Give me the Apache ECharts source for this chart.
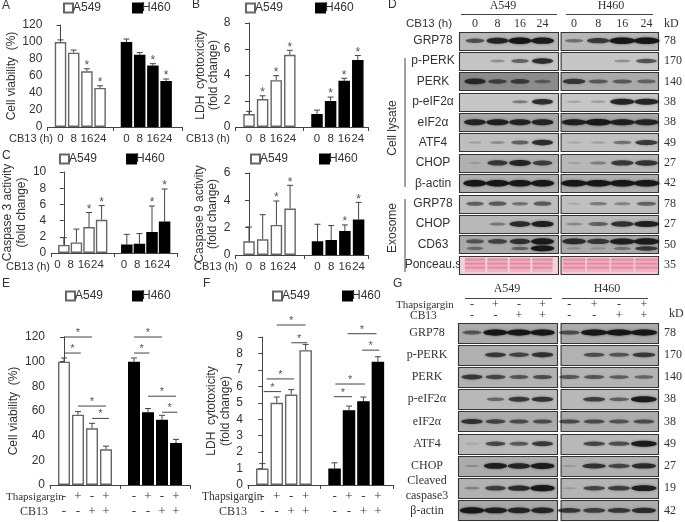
<!DOCTYPE html>
<html><head><meta charset="utf-8">
<style>html,body{margin:0;padding:0;background:#fff}#c{width:685px;height:522px}</style>
<script src="https://cdn.jsdelivr.net/npm/echarts@6/dist/echarts.min.js"></script>
</head><body><div id="c"></div>
<script>
// ---------- bar panel data ----------
const hourLabels = ['0','8','16','24'];
const tgLabels = ['-','+','-','+'];
const cbLabels = ['-','-','+','+'];

const aA549 = [100,87.5,65.5,46];   const aA549Err = [2.5,3,3,2.5];
const aH460 = [100,85,72.5,54];     const aH460Err = [3.5,2.5,2,2.5];
const aStars = [2,3,7,8];
const bA549 = [1,2.15,3.6,5.55];    const bA549Err = [.2,.25,.35,.35];
const bH460 = [1,2,3.55,5.15];      const bH460Err = [.3,.3,.2,.35];
const bStars = [1,2,3,6,7,8];
const cA549 = [1,1.3,3.2,4.1];      const cA549Err = [.9,1.65,1.8,1.75];
const cH460 = [1.05,1.15,2.6,3.9];  const cH460Err = [1.25,1.25,3.2,4];
const cStars = [2,3,7,8];
const c9A549 = [1,1.15,2.2,3.4];    const c9A549Err = [1.05,1.8,1.75,1.7];
const c9H460 = [1,1.1,1.75,2.6];    const c9H460Err = [1.25,1.05,.45,1.25];
const c9Stars = [2,3,7,8];
const eA549 = [100,57,46,29];       const eA549Err = [3,2.5,4,2.5];
const eH460 = [100,59,53,34];       const eH460Err = [3,3,3.5,3];
const eBrackets = [[0,2,120],[0,1.2,107],[1,3,64],[2,3.2,54],[5,7,120],[5,6.1,107],[6,8,72],[7,8.1,59]];
const fA549 = [1,5,5.5,8.2];        const fA549Err = [.3,.35,.3,.35];
const fH460 = [1,4.55,5.1,7.5];     const fH460Err = [.35,.25,.25,.3];
const fBrackets = [[1,3,9.73],[2,3.1,8.65],[.3,2.2,6.45],[.1,1.3,5.68],[5.9,7.9,9.2],[6.9,8.1,8.2],[5.05,7.1,6.14],[4.95,6.2,5.37]];

// ---------- blot data (band strength per lane) ----------
const dRows = ['GRP78','p-PERK','PERK','p-eIF2α','eIF2α','ATF4','CHOP','β-actin','GRP78','CHOP','CD63','Ponceau.s'];
const dKd = ['78','170','140','38','38','49','27','42','78','27','50','35'];
const dA549 = [[.55,.85,1,.95],[0,.2,.45,.8],[.8,.55,.6,.35],[0,0,.3,.8],[.85,.9,.85,.85],[.1,.2,.45,.8],[.05,.7,.85,.65],[1,1,1,1],[.45,.5,.35,.5],[0,.3,.8,.9],[.5,.6,.75,.95],[1,1,1,1]];
const dH460 = [[.35,.7,1,1],[0,0,.2,.55],[.7,.45,.45,.4],[.1,.12,.85,.85],[.9,1,.9,.85],[.05,.1,.35,.7],[.05,.25,.7,.75],[1,1,1,1],[.03,.3,.25,.45],[.2,.45,.75,.9],[.8,.7,.9,.95],[1,1,1,1]];
const dA549Lower = {10:[.35,0,.4,1]};
const dH460Lower = {10:[.1,.1,.3,.7]};
const dGrayA549 = [184,196,140,198,168,190,176,176,190,184,170,0];
const dGrayH460 = [184,198,170,198,168,192,184,176,192,186,170,0];
const gRows = ['GRP78','p-PERK','PERK','p-eIF2α','eIF2α','ATF4','CHOP','Cleaved\ncaspase3','β-actin'];
const gKd = ['78','170','140','38','38','49','27','19','42'];
const gA549 = [[.5,1,1,1],[0,.7,.6,.75],[.7,.6,.5,.55],[0,.4,.7,.75],[.75,.6,.55,.55],[.03,.6,.5,.7],[.1,.9,.85,.95],[.2,.65,.8,1],[1,.9,.85,.85]];
const gH460 = [[.55,1,1,1],[0,.55,.5,.7],[.5,.5,.45,.4],[0,.65,.45,.95],[.55,.55,.5,.55],[0,.6,.55,.95],[.05,.75,.6,.8],[.05,.6,.65,.9],[.7,.65,.7,.8]];
const gGrayA549 = [172,176,178,184,172,186,172,178,168];
const gGrayH460 = [172,178,180,184,172,184,176,180,172];

// ---------- layout ----------
const SANS = '"Liberation Sans",Arial,sans-serif', SERIF = '"Liberation Serif","Times New Roman",serif';
const INK = '#333', AXIS = '#444';
const panels = [
 {a:aA549,ae:aA549Err,h:aH460,he:aH460Err,stars:aStars,max:120,step:20,right:182,top:25,bottom:127,lane0:60.5,sp:13.2,bw:11.5,name:'Cell viability  (%)',gap:28,leg:[63,2],legGap:31,ln:14},
 {a:bA549,ae:bA549Err,h:bH460,he:bH460Err,stars:bStars,max:8,step:2,right:368,top:23,bottom:127,lane0:249,sp:13.6,bw:11.5,name:'LDH  cytotoxicity\n(fold change)',gap:15,leg:[245,2],legGap:32,ln:13},
 {a:cA549,ae:cA549Err,h:cH460,he:cH460Err,stars:cStars,max:10,step:2,right:177,top:172,bottom:253,lane0:57.5,sp:13.3,bw:11.5,name:'Caspase 3 activity\n(fold change)',gap:14,leg:[59,153],legGap:29,ln:14},
 {a:c9A549,ae:c9A549Err,h:c9H460,he:c9H460Err,stars:c9Stars,max:6,step:2,right:368,top:173,bottom:255,lane0:249,sp:13.7,bw:11.5,name:'Caspase 9 activity\n(fold change)',gap:16,leg:[250,153],legGap:31,ln:13},
 {a:eA549,ae:eA549Err,h:eH460,he:eH460Err,brackets:eBrackets,max:120,step:20,right:190,top:337,bottom:485,lane0:64,sp:14,bw:12,name:'Cell viability  (%)',gap:29,leg:[65,290],legGap:29,pm:true,ln:14},
 {a:fA549,ae:fA549Err,h:fH460,he:fH460Err,brackets:fBrackets,max:9,step:1,right:393,top:337,bottom:485,lane0:262.3,sp:14.45,bw:12.5,name:'LDH  cytotoxicity\n(fold change)',gap:12,leg:[272,290],legGap:32,pm:true,ln:14}
];
const option = {animation:false,backgroundColor:'#fff',grid:[],xAxis:[],yAxis:[],series:[],legend:[],graphic:[]};

function addText(text,x,y,font,extra){
 option.graphic.push({type:'text',x,y,z:200,silent:true,style:Object.assign({text,fill:INK,font:font||('12px '+SANS),verticalAlign:'middle',align:'left'},extra||{})});
}
function addLine(x1,y1,x2,y2){
 option.graphic.push({type:'line',silent:true,shape:{x1,y1,x2,y2},style:{stroke:AXIS,lineWidth:1}});
}

panels.forEach((p,i)=>{
 const left=p.lane0-p.sp, min=-1, max=min+(p.right-left)/p.sp;
 option.grid.push({left,top:p.top,width:p.right-left,height:p.bottom-p.top,containLabel:false});
 option.xAxis.push({gridIndex:i,type:'value',min,max,interval:1,
  splitLine:{show:false},
  axisLine:{show:true,onZero:false,lineStyle:{color:AXIS}},
  axisTick:{show:true,length:4,lineStyle:{color:AXIS},customValues:[min,4,max]},
  axisLabel:{show:false}});
 [0,1,2,3,5,6,7,8].forEach(l=>{
  const k=l>4?l-5:l, x=p.lane0+p.sp*l;
  if(p.pm){
   addText(tgLabels[k],x,p.bottom+12,'13px '+SERIF,{align:'center'});
   addText(cbLabels[k],x,p.bottom+27,'13px '+SERIF,{align:'center'});
  } else {
   addText(hourLabels[k],x,p.bottom+11.5,'11.5px '+SANS,{align:'center'});
  }
 });
 option.yAxis.push({gridIndex:i,type:'value',min:0,max:p.max,interval:p.step,
  splitLine:{show:false},axisLine:{show:true,lineStyle:{color:AXIS}},
  axisTick:{show:true,length:4,lineStyle:{color:AXIS}},
  axisLabel:{color:INK,fontFamily:SANS,fontSize:12,margin:5},
  name:p.name,nameLocation:'middle',nameRotate:90,nameGap:p.gap,
  nameTextStyle:{color:INK,fontFamily:SANS,fontSize:12,lineHeight:p.ln}});
 option.legend.push({left:p.leg[0],top:p.leg[1],padding:0,icon:'rect',itemWidth:9,itemHeight:9,itemGap:p.legGap,
  selectedMode:false,data:['A549','H460'],textStyle:{color:INK,fontFamily:SANS,fontSize:12,padding:[0,0,0,-5]}});
 const bar=(name,vals,base,fill)=>({type:'bar',name,xAxisIndex:i,yAxisIndex:i,barWidth:p.bw,barGap:'-100%',silent:true,
   itemStyle:{color:fill,borderColor:fill==='#fff'?'#666':'#000',borderWidth:1.4},
   data:vals.map((v,k)=>[base+k,v])});
 option.series.push(bar('A549',p.a,0,'#fff'),bar('H460',p.h,5,'#000'));
 const errData=[...p.a.map((v,k)=>[k,v,p.ae[k]]),...p.h.map((v,k)=>[5+k,v,p.he[k]])];
 option.series.push({type:'custom',xAxisIndex:i,yAxisIndex:i,silent:true,encode:{x:0,y:1},data:errData,z:1,
  renderItem:(params,api)=>{
   const c=api.coord([api.value(0),api.value(1)+api.value(2)]),b=api.coord([api.value(0),api.value(1)]);
   return {type:'group',children:[
    {type:'line',shape:{x1:c[0],y1:c[1],x2:c[0],y2:b[1]},style:{stroke:'#444',lineWidth:1}},
    {type:'line',shape:{x1:c[0]-3,y1:c[1],x2:c[0]+3,y2:c[1]},style:{stroke:'#444',lineWidth:1}}]};
  }});
 if(p.stars){
  option.series.push({type:'custom',xAxisIndex:i,yAxisIndex:i,silent:true,encode:{x:0,y:1},
   data:p.stars.map(l=>{const k=l>4?l-5:l,v=l>4?p.h[k]+p.he[k]:p.a[k]+p.ae[k];return [l,v];}),
   renderItem:(params,api)=>{const c=api.coord([api.value(0),api.value(1)]);
    return {type:'text',x:c[0],y:c[1]-3,style:{text:'*',fill:'#555',font:'12px '+SANS,align:'center',verticalAlign:'middle'}};}});
 }
 if(p.brackets){
  option.series.push({type:'custom',xAxisIndex:i,yAxisIndex:i,silent:true,encode:{x:0,y:2},clip:false,data:p.brackets,
   renderItem:(params,api)=>{const a=api.coord([api.value(0),api.value(2)]),b=api.coord([api.value(1),api.value(2)]);
    return {type:'group',children:[
     {type:'line',shape:{x1:a[0],y1:a[1],x2:b[0],y2:b[1]},style:{stroke:'#444',lineWidth:1}},
     {type:'text',x:(a[0]+b[0])/2,y:a[1]-4,style:{text:'*',fill:'#555',font:'11px '+SANS,align:'center',verticalAlign:'middle'}}]};
   }});
 }
});

// ---------- blot panels ----------
function blot(cfg){
 const i=option.grid.length;
 const left=cfg.lane0-cfg.sp, min=-1, max=min+(cfg.right-left)/cfg.sp, edge=(cfg.left-cfg.lane0)/cfg.sp;
 option.grid.push({left,top:cfg.top,width:cfg.right-left,height:cfg.height});
 option.xAxis.push({gridIndex:i,type:'value',position:'top',min,max,interval:1,splitLine:{show:false},axisLine:{show:false},axisTick:{show:false},
  axisLabel:{show:true,hideOverlap:false,showMinLabel:true,showMaxLabel:true,margin:cfg.labelMargin,color:INK,fontFamily:SERIF,fontSize:12,lineHeight:11,
   formatter:v=>{const n=Math.round(v);return (Math.abs(v-n)<1e-6&&n>=0&&n<=3)?cfg.laneText(n):'';}}});
 option.yAxis.push({gridIndex:i,type:'category',inverse:true,data:cfg.side==='left'?cfg.rows:cfg.kd,
  position:cfg.side,axisLine:{show:false},
  axisTick:{show:cfg.side==='right',length:3,alignWithLabel:true,lineStyle:{color:AXIS}},
  axisLabel:{interval:0,margin:cfg.side==='left'?cfg.nameMargin:5,align:cfg.side==='left'?'center':'left',
   color:INK,fontFamily:cfg.side==='left'?cfg.nameFont:SERIF,fontSize:12,lineHeight:cfg.nameLine||14}});
 option.series.push({type:'custom',xAxisIndex:i,yAxisIndex:i,silent:true,encode:{x:0,y:1},clip:false,
  data:cfg.gray.map((g,r)=>[0,r,g]),
  renderItem:(params,api)=>{
   const s=params.coordSys,c=api.coord([edge,api.value(1)]),h=api.size([0,1])[1],g=api.value(2);
   const stain=g===0, x0=c[0];
   return {type:'rect',shape:{x:x0+.5,y:Math.round(c[1]-h/2+1)+.5,width:s.x+s.width-x0-1,height:Math.round(h-2)},
    style:{fill:stain?'#f3d3da':`rgb(${g},${g},${g})`,stroke:'#333',lineWidth:1.1}};
  }});
 const data=[];
 cfg.bands.forEach((row,r)=>row.forEach((v,l)=>{
  if(v>0) data.push([l,r,v,0]);
  const low=cfg.lower&&cfg.lower[r];
  if(low&&low[l]>0) data.push([l,r,low[l],1]);
 }));
 const stainRow=cfg.gray.indexOf(0);
 option.series.push({type:'custom',xAxisIndex:i,yAxisIndex:i,silent:true,encode:{x:0,y:1},data,clip:false,
  renderItem:(params,api)=>{
   const r=api.value(1),v=api.value(2),low=api.value(3);
   const c=api.coord([api.value(0),r]),h=api.size([0,1])[1];
   const w=cfg.sp;
   if(r===stainRow){
    const kids=[{type:'rect',shape:{x:c[0]-w*.44,y:c[1]-h/2+3,width:w*.88,height:h-6},style:{fill:'#efb4c4',shadowBlur:2,shadowColor:'#efb4c4'}}];
    [-5,-1,3].forEach(o=>kids.push({type:'rect',shape:{x:c[0]-w*.44,y:c[1]+o-1,width:w*.88,height:1.6},style:{fill:'#e0829e',opacity:.7,shadowBlur:1.5,shadowColor:'#e0829e'}}));
    return {type:'group',children:kids};
   }
   const rx=w*(.28+.24*v), ry=.9+(cfg.thick||2.4)*v*(low?.8:1), cy=c[1]+(low?4:(cfg.lower&&cfg.lower[r]?-3:0));
   const a=Math.min(1,.1+.85*v);
   return {type:'ellipse',shape:{cx:c[0],cy,rx,ry},style:{fill:`rgba(20,20,20,${a})`,shadowBlur:2.5,shadowColor:`rgba(20,20,20,${a*.7})`}};
  }});
}
const dTop=30.5, dH=244.5, gTop=321.5, gH=200;
const hours=v=>hourLabels[v];
const pm=v=>tgLabels[v]+'\n'+cbLabels[v];
blot({rows:dRows,kd:dKd,bands:dA549,lower:dA549Lower,gray:dGrayA549,side:'left',left:459,right:559,top:dTop,height:dH,lane0:475,sp:22.5,labelMargin:1,laneText:hours,nameMargin:19.5,nameFont:SANS});
blot({rows:dRows,kd:dKd,bands:dH460,lower:dH460Lower,gray:dGrayH460,side:'right',left:561,right:663,top:dTop,height:dH,lane0:575,sp:25,labelMargin:1,laneText:hours});
blot({rows:gRows,kd:gKd,bands:gA549,gray:gGrayA549,side:'left',left:458,right:558,top:gTop,height:gH,lane0:472,sp:23.5,labelMargin:0,laneText:pm,nameMargin:21.5,nameFont:SERIF,nameLine:15,thick:2.2});
blot({rows:gRows,kd:gKd,bands:gH460,gray:gGrayH460,side:'right',left:561,right:662,top:gTop,height:gH,lane0:570,sp:25.5,labelMargin:0,laneText:pm,thick:2.2});

// ---------- free text ----------
[['A',2,6],['B',192,5],['C',2,156],['D',388,5],['E',2,284],['F',203,284],['G',393,284]].forEach(t=>addText(t[0],t[1],t[2],'12px '+SANS));
[[9,139],[186,139],[6,267],[194,267]].forEach(t=>addText('CB13 (h)',t[0],t[1],'11px '+SANS));
addText('CB13 (h)',406,24,'11.5px '+SANS);
addText('Thapsigargin',6,497,'11px '+SERIF);
addText('CB13',20,512,'12px '+SERIF);
addText('Thapsigargin',202,497,'11.5px '+SERIF);
addText('CB13',219,512,'12px '+SERIF);
addText('A549',503,6,'12px '+SERIF,{align:'center'});
addText('H460',611,6,'12px '+SERIF,{align:'center'});
addLine(461,14.5,557,14.5);addLine(566,14.5,653,14.5);
addText('kD',664,24,'12px '+SERIF);
addText('A549',507,289,'12px '+SERIF,{align:'center'});
addText('H460',607,289,'12px '+SERIF,{align:'center'});
addLine(465,298.5,552,298.5);addLine(562,298.5,648,298.5);
addText('Thapsigargin',396,305,'11px '+SERIF);
addText('CB13',410,316,'11.5px '+SERIF);
addText('kD',669,314,'12px '+SERIF);
addLine(405,58,405,187);addLine(405,199,405,272);
option.graphic.push({type:'text',x:393,y:128,rotation:Math.PI/2,silent:true,style:{text:'Cell lysate',fill:INK,font:'12px '+SANS,align:'center',verticalAlign:'middle'}});
option.graphic.push({type:'text',x:393,y:228,rotation:Math.PI/2,silent:true,style:{text:'Exosome',fill:INK,font:'12px '+SANS,align:'center',verticalAlign:'middle'}});

echarts.init(document.getElementById('c'),null,{renderer:'canvas'}).setOption(option);
</script></body></html>
